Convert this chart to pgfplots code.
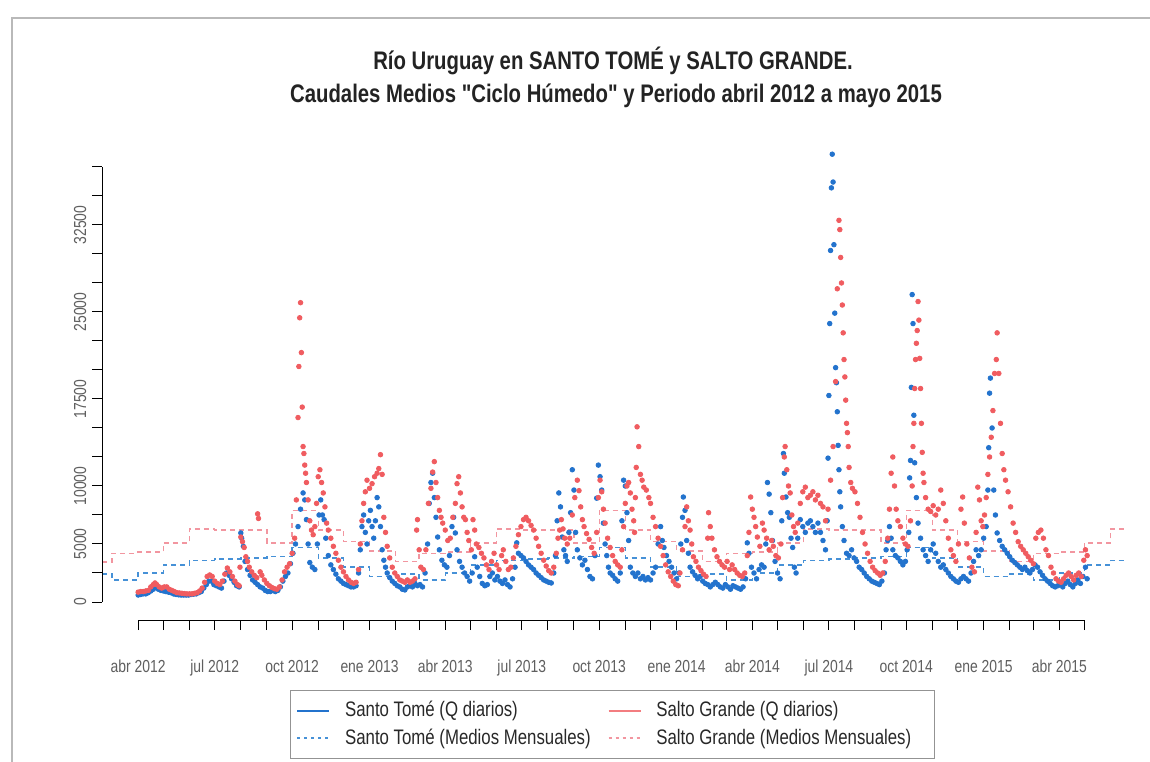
\documentclass[border=0pt]{standalone}
\usepackage{fontspec}
\setmainfont{Liberation Sans}
\newfontfamily\narrow[FakeStretch=0.8]{Liberation Sans}
\usepackage{pgfplots}
\pgfplotsset{compat=1.18}
\usepackage{pgfplotstable}
\definecolor{stblue}{RGB}{35,115,205}
\definecolor{sgred}{RGB}{240,92,96}
\definecolor{stdash}{RGB}{70,145,215}
\definecolor{sgdash}{RGB}{242,150,160}
\definecolor{titlegray}{RGB}{35,35,35}
\definecolor{tickgray}{RGB}{95,95,95}
\definecolor{leggray}{RGB}{40,40,40}
\newcommand\titlefont{\narrow\bfseries\fontsize{12.7pt}{15pt}\selectfont}
\newcommand\tickfont{\narrow\fontsize{8.7pt}{10pt}\selectfont}
\newcommand\legfont{\narrow\fontsize{10.5pt}{12pt}\selectfont}

% Santo Tome, daily flow (x = days since 1 Apr 2012)
\pgfplotstableread{
x y
0 600
3 650
6 700
9 700
12 800
15 950
18 1100
21 1300
24 1100
27 1000
30 950
33 900
36 850
39 800
42 700
45 650
48 620
51 600
54 600
57 600
60 600
63 650
66 680
69 700
72 800
75 900
78 1200
81 1500
84 1800
87 1800
90 1500
93 1400
96 1300
99 1200
102 1800
105 2500
108 2300
111 2000
114 1700
117 1400
120 1300
122 5950
123 5500
125 4800
127 3500
130 2800
133 2300
136 1900
139 1700
142 1500
145 1300
148 1200
151 1000
154 900
157 900
160 1000
163 900
166 1000
169 1300
172 1800
175 2200
178 2500
181 3300
184 4200
187 5000
190 6500
193 8000
196 9400
198 8800
200 7100
202 5000
204 3400
207 3000
210 2800
213 5000
215 7500
217 8800
219 7500
221 7100
223 5500
226 4000
229 3200
232 2800
235 2400
238 2000
241 1800
244 1600
247 1500
250 1400
253 1300
256 1300
259 1400
262 2500
264 4500
266 6500
268 7500
270 6000
272 5000
274 7000
276 7900
278 6500
280 5500
282 7000
284 9000
286 8200
288 6500
290 4500
292 3600
294 3000
296 2500
299 2100
302 1800
305 1600
308 1400
311 1300
314 1100
317 1040
320 1300
323 1400
326 1300
329 1600
332 1400
335 1500
338 1300
341 2500
344 5000
346 8500
348 10300
350 11100
352 9000
354 7300
356 5600
358 4500
361 3600
364 3200
367 3000
370 4000
373 6500
375 7300
377 5950
379 4500
382 3500
385 3000
388 2500
391 2200
394 1800
397 2500
400 3900
403 3000
406 2200
409 1600
412 1400
415 1500
418 2200
421 2500
424 1900
427 2200
430 1800
433 1600
436 1900
439 1500
442 1300
445 2000
448 3000
450 5100
452 4200
455 4000
458 3800
461 3500
464 3200
467 3000
470 2800
473 2500
476 2300
479 2100
482 1900
485 1800
488 1700
491 1640
494 2500
496 4000
498 7000
500 9400
502 8200
504 5600
506 4500
508 4000
510 3500
512 6000
514 7700
516 11400
518 9650
520 6000
522 4500
525 3800
528 3200
531 3600
534 2800
537 2200
540 2000
543 4000
545 8950
547 11800
549 10800
551 9650
553 6800
555 5000
557 4000
559 3000
561 2500
564 2300
567 2000
570 1800
573 2500
575 7000
577 10500
579 10000
581 7700
583 5300
585 3000
588 2500
591 2200
594 2500
597 2000
600 2200
603 1900
606 2100
609 1900
612 2500
615 3000
618 5000
621 6500
623 5300
625 4700
628 4000
631 3500
634 3000
637 2500
640 2000
643 2500
645 5000
647 7300
648 9050
650 7900
652 5300
654 4200
656 3000
659 2600
662 2300
665 2000
668 2200
671 1800
674 1600
677 1500
680 1300
683 1500
686 1700
689 1500
692 1300
695 1200
698 1500
701 1300
704 1100
707 1400
710 1300
713 1200
716 1100
719 1300
722 2000
724 5100
726 4200
729 3000
732 2500
735 2000
738 2800
741 3200
744 3000
746 5000
748 10300
750 9300
752 7700
754 5300
757 3500
760 2500
763 2000
765 7000
767 12800
768 11100
770 9050
772 7700
774 7300
776 5500
778 4700
780 3000
782 2500
784 5500
787 7100
790 6500
793 6000
796 6800
799 7000
802 6500
805 6000
808 6800
811 6000
814 5300
817 4500
819 7000
820 12400
821 17800
822 24000
823 30300
824 35700
825 38600
826 36200
827 30800
828 24900
829 20200
830 18900
831 16400
832 13500
833 11400
834 9500
835 8200
837 6500
839 5300
842 4200
845 4000
848 4500
851 3800
854 3500
857 3000
860 2800
863 2500
866 2200
869 2000
872 1800
875 1700
878 1600
881 1500
884 1800
887 2500
889 4500
891 5300
893 6500
895 5500
897 4500
900 4000
903 3800
906 3500
909 3200
912 3500
914 4500
916 6000
917 10700
918 12200
919 18500
920 26500
921 24000
922 16100
923 12000
925 9000
927 6800
930 5500
933 4500
936 4000
939 3500
942 4500
945 5000
948 4200
951 3500
954 3000
957 3200
960 2800
963 2500
966 2200
969 2000
972 1800
975 1700
978 2000
981 2200
984 2000
987 1800
990 2500
993 3500
996 4500
999 4000
1002 4500
1005 5500
1008 6500
1010 9650
1011 13300
1012 18000
1013 19300
1015 15000
1017 9650
1019 7500
1021 5950
1024 5300
1027 4800
1030 4500
1033 4200
1036 3900
1039 3600
1042 3400
1045 3200
1048 3000
1051 2800
1054 3000
1057 2700
1060 2500
1063 2800
1066 3200
1069 3000
1072 2600
1075 2300
1078 2000
1081 1800
1084 1600
1087 1400
1090 1300
1093 1400
1096 1500
1099 1300
1102 1600
1105 1800
1108 1500
1111 1300
1114 1600
1117 1900
1120 1600
1123 2200
1126 3000
1128 2000
}\stdata

% Salto Grande, daily flow
\pgfplotstableread{
x y
0 850
3 900
6 900
9 950
12 1000
15 1300
18 1500
20 1640
22 1500
25 1300
28 1200
31 1300
34 1300
37 1100
40 1000
43 900
46 800
49 780
52 750
55 720
58 700
61 700
64 700
67 750
70 800
73 950
76 1200
79 1700
82 2200
85 2330
88 2200
91 1800
94 1600
97 1500
100 1800
103 2400
106 2930
109 2600
112 2200
115 1800
118 1500
120 1400
121 3000
122 5600
124 5200
126 4700
128 3900
130 3500
132 3000
135 2600
138 2300
141 2100
142 7600
143 7200
145 2600
147 2300
150 1900
153 1600
156 1400
159 1250
162 1150
165 1100
168 1300
171 1900
174 2600
177 3000
180 3300
183 4200
186 5500
188 8800
190 15900
191 20300
192 24500
193 25800
194 21500
195 16800
196 13400
197 12800
198 11800
199 11100
200 10300
202 8800
204 7000
206 6200
208 5800
210 6500
212 8500
214 10800
216 11400
218 10300
220 9400
222 8200
224 6800
226 6200
229 5500
232 4800
235 4200
238 3600
241 3000
244 2600
247 2200
250 1900
253 1700
256 1600
259 1700
262 2800
264 5000
266 7000
268 8500
270 9500
272 10500
275 9800
278 10200
281 10800
284 11100
286 11500
288 12700
290 11000
292 7300
294 6000
296 4800
299 3800
302 3000
305 2500
308 2200
311 1900
314 1800
317 1700
320 1900
323 1700
326 1800
329 2000
331 6200
332 7100
334 4500
336 3000
339 2800
342 4500
345 8500
348 9800
350 11200
352 12100
354 10300
356 9000
358 7900
360 7300
362 6800
365 6200
368 5300
371 5500
374 7300
377 8500
379 10200
381 10800
383 9400
385 8200
387 7300
389 7100
391 6000
393 5300
396 4500
398 7100
400 6200
402 5000
405 4700
408 4200
411 3800
414 3200
417 2800
420 3500
423 4200
426 3200
429 2800
432 4000
434 4500
437 3500
440 2800
443 3000
446 3800
449 4800
452 5800
455 6500
458 7100
461 7300
464 7000
467 6600
470 6200
473 5500
476 4800
479 4200
482 3600
485 3100
488 2700
491 2500
494 3000
497 4200
499 5500
501 6200
503 7100
505 6300
507 5500
510 5000
513 5500
516 7500
519 9000
522 10500
524 9600
526 8200
528 7100
530 6500
533 5900
536 5400
539 4700
542 4200
545 6000
547 9000
549 10500
551 9500
553 8000
555 6800
558 5500
561 4700
564 4000
567 3500
570 3200
573 3000
575 4500
577 6500
579 8500
581 10000
583 10300
585 9400
587 8000
589 7000
590 6000
591 9000
592 11600
593 15100
595 13400
597 11000
599 10500
601 9900
604 9650
607 9000
609 8500
612 7300
615 6500
618 5500
621 4800
624 4000
627 3200
630 2600
633 2200
636 1800
639 1500
642 1400
644 2500
647 4500
650 6500
652 8200
654 7000
656 6200
658 5000
660 3900
663 3500
666 3000
669 2700
672 2400
675 2200
677 5500
678 7700
680 6500
682 5500
685 4500
688 3900
691 3500
694 3200
697 3000
700 3500
703 2800
706 3200
709 2800
712 2500
715 2300
718 2200
721 2500
724 4000
726 6000
728 9050
730 8000
732 7300
734 6500
736 5600
739 4800
742 6800
744 6200
747 5500
750 4500
753 5300
755 4800
758 4000
761 3800
764 5000
766 9000
768 12500
769 13400
771 11400
773 10000
775 9400
777 7500
779 6500
781 6000
784 6800
787 8500
790 9500
793 9900
796 9000
799 9200
802 9500
805 8800
808 9200
811 8500
814 8200
817 7000
820 8000
823 10500
826 13400
829 19000
831 27000
833 32900
834 32100
835 29700
836 27500
837 25600
838 23200
839 20900
840 19400
841 17400
842 15400
843 14600
844 13400
845 11600
847 10300
849 9800
852 9500
855 8500
858 7300
861 6000
864 5000
867 4200
870 3500
873 3000
876 2700
879 2500
882 2300
885 2500
888 3500
891 5500
893 8000
895 11100
897 12500
899 10000
901 8000
903 7000
906 6500
909 5500
912 5000
915 4800
918 7000
920 10000
921 13400
922 15400
923 18400
924 20900
925 22300
926 23400
927 25900
928 24300
929 21000
930 18400
931 15400
932 12900
933 11100
934 10300
936 9000
939 8000
942 7800
945 8300
948 7500
951 8000
954 9650
957 8500
960 7000
963 5500
966 4500
969 4000
972 3500
975 5000
978 8000
980 9050
982 6800
985 5000
988 3800
991 3000
994 2600
996 6000
998 9900
1000 8800
1002 7000
1004 6500
1006 7500
1008 9000
1010 11000
1012 12500
1014 14200
1016 16500
1018 19700
1020 20900
1021 23200
1023 19700
1025 15400
1027 12800
1029 11400
1031 10500
1034 9500
1037 8200
1040 6800
1043 6000
1046 5200
1049 4800
1052 4500
1055 4200
1058 3900
1061 3600
1064 3300
1067 5500
1070 6000
1073 6200
1076 5500
1079 4500
1082 4000
1085 3000
1088 2500
1091 2000
1094 1800
1097 1700
1100 2000
1103 2300
1106 2500
1109 2200
1112 1900
1115 2300
1118 2500
1121 2200
1124 3600
1126 4500
1128 4000
}\sgdata

\begin{document}
\begin{tikzpicture}[x=0.5pt,y=0.5pt]
\useasboundingbox (0,0) rectangle (1150,761);
\fill[white] (0,0) rectangle (1150,761);
\draw[gray!55, line width=0.7pt] (12,-10) -- (12,743) -- (1160,743);
\node[font=\titlefont, text=titlegray, anchor=base] at (613,691) {Río Uruguay en SANTO TOMÉ y SALTO GRANDE.};
\node[font=\titlefont, text=titlegray, anchor=base] at (616,658) {Caudales Medios "Ciclo Húmedo" y Periodo abril 2012 a mayo 2015};
\begin{axis}[
  at={(51pt,70.5pt)}, anchor=south west,
  scale only axis, width=511.5pt, height=244pt,
  xmin=-43, xmax=1173, ymin=-1552, ymax=40514,
  axis x line*=bottom, axis y line*=left,
  axis line style={draw=none},
  clip=false,
  scaled y ticks=false,
  tick align=outside, major tick length=5pt,
  tick style={black, line width=0.5pt},
  xtick={0,30,61,91,122,153,183,214,244,275,306,334,365,395,426,456,487,518,548,579,609,640,671,699,730,760,791,821,852,883,913,944,974,1005,1036,1064,1095,1125},
  xticklabels={abr 2012,,,jul 2012,,,oct 2012,,,ene 2013,,,abr 2013,,,jul 2013,,,oct 2013,,,ene 2014,,,abr 2014,,,jul 2014,,,oct 2014,,,ene 2015,,,abr 2015,},
  ytick={0,2500,...,37500},
  yticklabels={0,,5000,,10000,,,17500,,,25000,,,32500,,},
  every tick label/.append style={font=\tickfont, text=tickgray},
  xticklabel style={anchor=base, yshift=-21pt},
  yticklabel style={xshift=-3pt, rotate=90, anchor=base},
  legend style={at={(0.1838,-0.1434)}, anchor=north west, draw=gray!85, line width=0.5pt,
    fill=white, legend columns=2, font=\legfont, text=leggray,
    inner xsep=3pt, inner ysep=4pt, row sep=1.5pt,
    /tikz/every even column/.append style={column sep=7pt},
    nodes={inner sep=1.5pt}},
  legend cell align=left,
  legend image code/.code={\draw[#1] (0pt,0pt) -- (16pt,0pt); \path (22pt,0pt);},
]
\addplot[const plot, stdash, line width=0.7pt, dash pattern=on 2.5pt off 2pt, forget plot] coordinates {
(-43,2400) (-31,1900) (0,2500) (30,3200) (61,3600) (91,3700) (122,3800) (153,3900) (183,4700) (214,3800) (244,3000)
(275,2200) (306,2400) (334,1900) (365,2500) (395,3200) (426,3600) (456,3700) (487,3800) (518,3900) (548,4700) (579,3800) (609,3000)
(640,2200) (671,2400) (699,1900) (730,2500) (760,3200) (791,3600) (821,3700) (852,3800) (883,3900) (913,4700) (944,3800) (974,3000)
(1005,2200) (1036,2400) (1064,1900) (1095,2500) (1125,3200) (1156,3600) (1173,3600)};
\addplot[const plot, sgdash, line width=0.7pt, dash pattern=on 2.5pt off 2pt, forget plot] coordinates {
(-43,3450) (-31,4200) (0,4300) (30,5100) (61,6300) (91,6200) (122,6200) (153,5100) (183,7900) (214,6200) (244,5200)
(275,4400) (306,3500) (334,4200) (365,4300) (395,5100) (426,6300) (456,6200) (487,6200) (518,5100) (548,7900) (579,6200) (609,5200)
(640,4400) (671,3500) (699,4200) (730,4300) (760,5100) (791,6300) (821,6200) (852,6200) (883,5100) (913,7900) (944,6200) (974,5200)
(1005,4400) (1036,3500) (1064,4200) (1095,4300) (1125,5100) (1156,6300) (1173,6300)};
\addplot[stblue, only marks, mark=*, mark size=1.15pt, forget plot] table[x=x, y=y] {\stdata};
\addplot[sgred, only marks, mark=*, mark size=1.15pt, forget plot] table[x=x, y=y] {\sgdata};
\addlegendimage{stblue, line width=0.8pt}
\addlegendentry{Santo Tomé (Q diarios)}
\addlegendimage{sgred!80!white, line width=0.8pt}
\addlegendentry{Salto Grande (Q diarios)}
\addlegendimage{stdash, line width=0.8pt, dash pattern=on 1.5pt off 2pt}
\addlegendentry{Santo Tomé (Medios Mensuales)}
\addlegendimage{sgdash, line width=0.8pt, dash pattern=on 1.5pt off 2pt}
\addlegendentry{Salto Grande (Medios Mensuales)\rule{7pt}{0pt}}
\draw[black, line width=0.5pt] (axis cs:0,-1552) -- (axis cs:1125,-1552);
\draw[black, line width=0.5pt] (axis cs:-43,0) -- (axis cs:-43,37500);
\end{axis}
\end{tikzpicture}
\end{document}
